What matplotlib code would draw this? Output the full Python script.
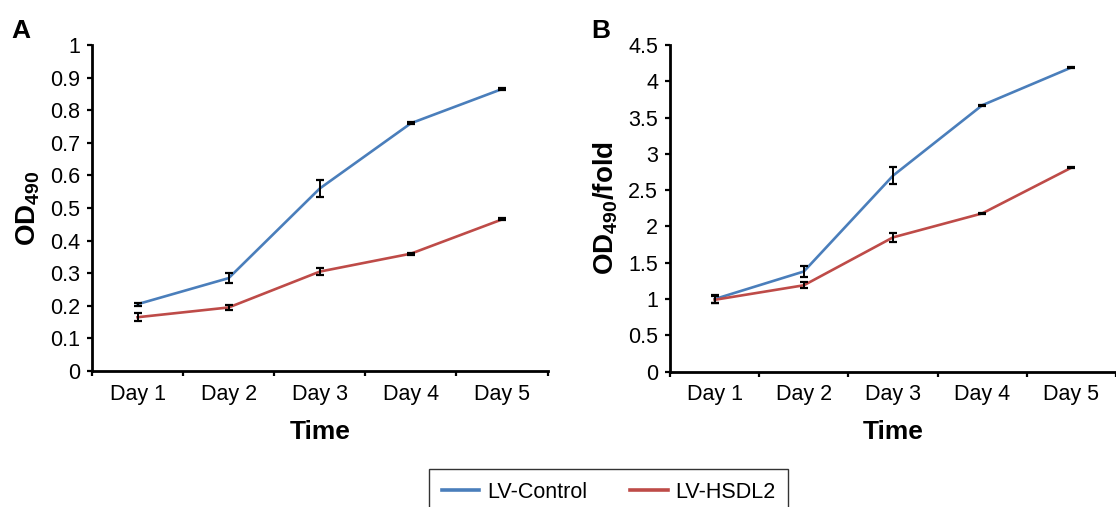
"""Growth curves (OD490) for LV-Control vs LV-HSDL2, panels A and B."""

import matplotlib
matplotlib.use("Agg")
import matplotlib.pyplot as plt
import numpy as np

plt.rcParams["font.family"] = ["Liberation Sans", "DejaVu Sans"]
plt.rcParams["mathtext.fontset"] = "custom"
plt.rcParams["mathtext.rm"] = "Liberation Sans"
plt.rcParams["mathtext.bf"] = "Liberation Sans:bold"

days = ["Day 1", "Day 2", "Day 3", "Day 4", "Day 5"]
series = ["LV-Control", "LV-HSDL2"]

# panel A: raw OD490
a_control = [0.205, 0.285, 0.56, 0.76, 0.865]
a_control_err = [0.005, 0.015, 0.025, 0.003, 0.003]
a_hsdl2 = [0.165, 0.195, 0.305, 0.36, 0.465]
a_hsdl2_err = [0.012, 0.007, 0.01, 0.003, 0.003]

# panel B: fold change relative to day 1
b_control = [1.0, 1.38, 2.70, 3.67, 4.19]
b_control_err = [0.06, 0.08, 0.12, 0.01, 0.01]
b_hsdl2 = [0.99, 1.19, 1.85, 2.18, 2.81]
b_hsdl2_err = [0.05, 0.04, 0.06, 0.01, 0.01]

BLUE = "#4a7ebb"
RED = "#be4b48"


def draw_panel(ax, ctrl, ctrl_err, kd, kd_err, ymax, ystep, ylabel, xmax):
    x = np.arange(1, len(days) + 1)
    lines = []
    for vals, errs, color in ((ctrl, ctrl_err, BLUE), (kd, kd_err, RED)):
        ln, = ax.plot(x, vals, color=color, lw=1.9, zorder=2)
        ax.errorbar(x, vals, yerr=errs, fmt="none", ecolor="black",
                    elinewidth=1.4, capsize=3, capthick=1.6, zorder=3)
        lines.append(ln)
    ax.set_xlim(0.5, xmax)
    ax.set_ylim(0, ymax)
    yt = np.arange(0, ymax + ystep / 2, ystep)
    ax.set_yticks(yt)
    ax.set_yticklabels([f"{v:g}" for v in yt])
    ax.set_xticks(x)
    ax.set_xticklabels(days)
    ax.set_xticks(np.arange(0.5, len(days) + 1, 1.0), minor=True)
    ax.tick_params(axis="x", which="major", length=0, pad=9, labelsize=15.5)
    ax.tick_params(axis="x", which="minor", length=3.5, width=1.6, direction="out")
    ax.tick_params(axis="y", length=3.5, width=1.6, direction="out", labelsize=15.5, pad=5)
    for side in ("top", "right"):
        ax.spines[side].set_visible(False)
    for side in ("left", "bottom"):
        ax.spines[side].set_linewidth(2)
    ax.set_xlabel("Time", fontsize=19, fontweight="bold", labelpad=11)
    ax.set_ylabel(ylabel, fontsize=20, fontweight="bold", labelpad=6)
    return lines


def main() -> None:
    fig = plt.figure(figsize=(11.16, 5.07), dpi=100)
    ax_a = fig.add_axes([0.0824, 0.2682, 0.4083, 0.6430])
    ax_b = fig.add_axes([0.6004, 0.2669, 0.3996, 0.6444])

    lines = draw_panel(ax_a, a_control, a_control_err, a_hsdl2, a_hsdl2_err,
                       1.0, 0.1, r"OD$_{\mathbf{490}}$", 5.5)
    draw_panel(ax_b, b_control, b_control_err, b_hsdl2, b_hsdl2_err,
               4.5, 0.5, r"OD$_{\mathbf{490}}$/fold", 5.37)

    fig.text(0.010, 0.925, "A", fontsize=19, fontweight="bold")
    fig.text(0.530, 0.925, "B", fontsize=19, fontweight="bold")

    leg = fig.legend(lines, series, loc="upper center", bbox_to_anchor=(0.5453, 0.075),
                     ncol=2, frameon=True, fancybox=False, fontsize=15.5,
                     handlelength=1.75, columnspacing=2.0, borderpad=0.6,
                     handletextpad=0.35, borderaxespad=0)
    leg.get_frame().set_edgecolor("black")
    leg.get_frame().set_linewidth(1.0)
    for h in leg.get_lines():
        h.set_linewidth(2.6)

    fig.savefig("out.png", dpi=100)
    plt.close(fig)


if __name__ == "__main__":
    main()
